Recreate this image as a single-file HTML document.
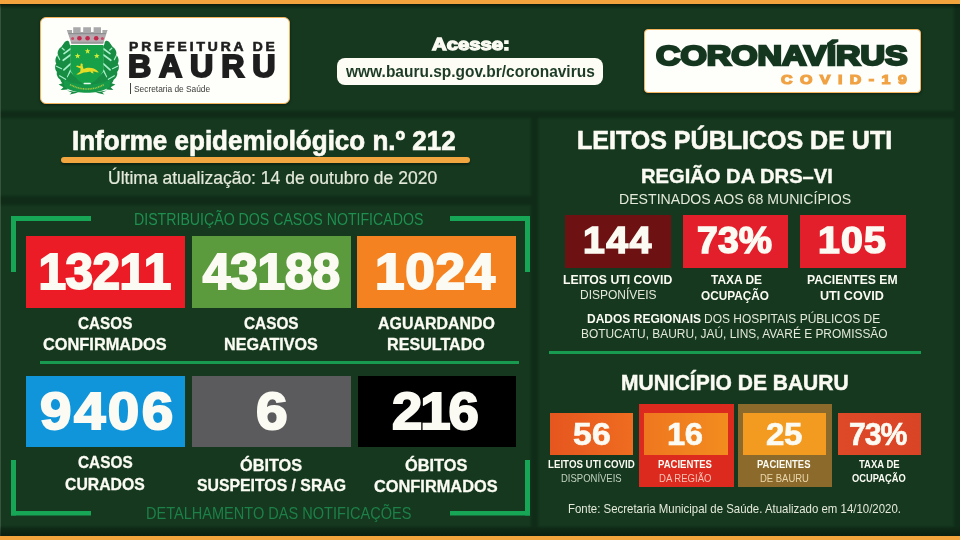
<!DOCTYPE html>
<html lang="pt-BR"><head><meta charset="utf-8"><title>Informe epidemiológico n.º 212 - Bauru</title>
<style>
html,body{margin:0;padding:0;}
body{width:960px;height:540px;overflow:hidden;position:relative;background:#102c18;font-family:"Liberation Sans", sans-serif;}
.t{position:absolute;white-space:nowrap;transform-origin:0 0;margin:0;padding:0;}
.b{position:absolute;}
.p{background:#15381f;filter:blur(1.1px);}
svg{position:absolute;left:0;top:0;}
</style></head><body>
<!-- background panels -->
<div class="b p" style="left:-6px;top:4.5px;width:960px;height:106px;"></div>
<div class="b p" style="left:-6px;top:117.5px;width:537px;height:78.5px;"></div>
<div class="b p" style="left:-6px;top:204.5px;width:537px;height:322px;"></div>
<div class="b p" style="left:537.5px;top:117.5px;width:416.5px;height:409px;"></div>
<div class="b" id="leftedge" style="left:0;top:4px;width:1.2px;height:532px;background:rgba(120,140,120,.35);"></div>
<!-- top & bottom orange bars -->
<div class="b" style="left:0;top:0;width:960px;height:4px;background:#f4a43c;"></div>
<div class="b" style="left:0;top:536px;width:960px;height:4px;background:#f4a43c;"></div>

<div class="b" id="topshade" style="left:0;top:4px;width:960px;height:5px;background:linear-gradient(180deg,rgba(8,22,10,.7),rgba(8,22,10,0));"></div>
<div class="b" style="left:0;top:526px;width:960px;height:10px;background:linear-gradient(180deg,rgba(8,22,10,0),rgba(8,22,10,.55));"></div>
<!-- logo box -->
<div class="b" style="left:39.5px;top:16.5px;width:248px;height:85px;background:#fefefa;border:1.5px solid #f3b35a;border-radius:6px;box-shadow:0 1px 3px rgba(0,0,0,.45);"></div>
<div class="b" style="left:129.5px;top:82.5px;width:1.4px;height:11.5px;background:#444;"></div>
<svg width="960" height="540" viewBox="0 0 960 540" style="pointer-events:none">
<defs><filter id="cb" x="-10%" y="-10%" width="120%" height="120%"><feGaussianBlur stdDeviation="0.45"/></filter></defs>
<g filter="url(#cb)">
<g>
<path d="M67 41.5 C56 47 53.5 70 66 84 L73 82 L70.8 72 L70.8 46 Z" fill="#158d43"/>
<ellipse cx="66.2" cy="45.5" rx="5.0" ry="3.1" transform="rotate(-70 66.2 45.5)" fill="#158d43"/>
<ellipse cx="61.2" cy="51.5" rx="5.0" ry="3.1" transform="rotate(-62 61.2 51.5)" fill="#158d43"/>
<ellipse cx="58.6" cy="59.5" rx="5.0" ry="3.1" transform="rotate(-78 58.6 59.5)" fill="#158d43"/>
<ellipse cx="58.2" cy="67.5" rx="5.0" ry="3.1" transform="rotate(-95 58.2 67.5)" fill="#158d43"/>
<ellipse cx="60.2" cy="75.0" rx="5.0" ry="3.1" transform="rotate(-115 60.2 75.0)" fill="#158d43"/>
<ellipse cx="64.5" cy="81.0" rx="5.0" ry="3.1" transform="rotate(-135 64.5 81.0)" fill="#158d43"/>
<path d="M64.0 53.6 L70.2 49.0" stroke="#a8efc9" stroke-width="1.7" stroke-linecap="round"/>
<path d="M63.2 60.3 L70.3 55.0" stroke="#a8efc9" stroke-width="1.7" stroke-linecap="round"/>
<path d="M63.9 69.9 L70.5 63.9" stroke="#a8efc9" stroke-width="1.7" stroke-linecap="round"/>
<path d="M67.7 76.8 L70.6 70.4" stroke="#a8efc9" stroke-width="1.7" stroke-linecap="round"/>
<path d="M62.2 48.2 L64.2 50.0" stroke="#a8efc9" stroke-width="1.2" stroke-linecap="round"/>
<path d="M57.6 55.6 L59.6 59.6" stroke="#a8efc9" stroke-width="1.2" stroke-linecap="round"/>
<path d="M56.4 66.3 L61.6 68.7" stroke="#a8efc9" stroke-width="1.2" stroke-linecap="round"/>
<path d="M59.6 75.8 L66.0 79.4" stroke="#a8efc9" stroke-width="1.2" stroke-linecap="round"/>
</g>
<g transform="translate(174.0 0) scale(-1 1)">
<path d="M67 41.5 C56 47 53.5 70 66 84 L73 82 L70.8 72 L70.8 46 Z" fill="#158d43"/>
<ellipse cx="66.2" cy="45.5" rx="5.0" ry="3.1" transform="rotate(-70 66.2 45.5)" fill="#158d43"/>
<ellipse cx="61.2" cy="51.5" rx="5.0" ry="3.1" transform="rotate(-62 61.2 51.5)" fill="#158d43"/>
<ellipse cx="58.6" cy="59.5" rx="5.0" ry="3.1" transform="rotate(-78 58.6 59.5)" fill="#158d43"/>
<ellipse cx="58.2" cy="67.5" rx="5.0" ry="3.1" transform="rotate(-95 58.2 67.5)" fill="#158d43"/>
<ellipse cx="60.2" cy="75.0" rx="5.0" ry="3.1" transform="rotate(-115 60.2 75.0)" fill="#158d43"/>
<ellipse cx="64.5" cy="81.0" rx="5.0" ry="3.1" transform="rotate(-135 64.5 81.0)" fill="#158d43"/>
<path d="M64.0 53.6 L70.2 49.0" stroke="#a8efc9" stroke-width="1.7" stroke-linecap="round"/>
<path d="M63.2 60.3 L70.3 55.0" stroke="#a8efc9" stroke-width="1.7" stroke-linecap="round"/>
<path d="M63.9 69.9 L70.5 63.9" stroke="#a8efc9" stroke-width="1.7" stroke-linecap="round"/>
<path d="M67.7 76.8 L70.6 70.4" stroke="#a8efc9" stroke-width="1.7" stroke-linecap="round"/>
<path d="M62.2 48.2 L64.2 50.0" stroke="#a8efc9" stroke-width="1.2" stroke-linecap="round"/>
<path d="M57.6 55.6 L59.6 59.6" stroke="#a8efc9" stroke-width="1.2" stroke-linecap="round"/>
<path d="M56.4 66.3 L61.6 68.7" stroke="#a8efc9" stroke-width="1.2" stroke-linecap="round"/>
<path d="M59.6 75.8 L66.0 79.4" stroke="#a8efc9" stroke-width="1.2" stroke-linecap="round"/>
</g>
<!-- crown -->
<path d="M66.8 30 L72 30 L72 33 L73.2 33 L73.2 27.3 L80.6 27.3 L80.6 32 L83.2 32 L83.2 27.3 L91 27.3 L91 32 L93.6 32 L93.6 27.3 L101 27.3 L101 33 L102.4 33 L102.4 30 L107.6 30 L103.2 43.6 L71.4 43.6 Z" fill="#a9a9ab"/>
<path d="M70 35.2 L104.5 35.2 L103 41.2 L71.6 41.2 Z" fill="#b8a9b0"/><path d="M68.5 33.6 L106 33.6" stroke="#8d8d90" stroke-width="1"/>
<circle cx="79.4" cy="38.3" r="2.3" fill="#c22a4c"/><circle cx="87.6" cy="38.3" r="2.3" fill="#c22a4c"/><circle cx="96.2" cy="38.3" r="2.3" fill="#c22a4c"/>
<circle cx="72.6" cy="38.6" r="1.5" fill="#c84a64"/><circle cx="102.4" cy="38.6" r="1.5" fill="#c84a64"/>
<path d="M71.2 42 L103.4 42 L103.2 43.7 L71.4 43.7 Z" fill="#98989a"/>
<!-- shield -->
<path d="M70.6 45.1 L103.3 45.1 L103.3 70 C103.3 76 96 82 87 86.4 C78 82 70.6 76 70.6 70 Z" fill="#17a047"/>
<!-- mint wedges -->
<path d="M70.8 71 L76.5 80.5 L73 79.5 Z" fill="#a8efc9"/><path d="M103.2 71 L97.5 80.5 L101 79.5 Z" fill="#a8efc9"/>
<!-- stars -->
<g fill="#d3ea3a">
<path d="M87.6 48.2 l0.75 2 2.1 0.1 -1.65 1.3 0.6 2.05 -1.8 -1.2 -1.8 1.2 0.6 -2.05 -1.65 -1.3 2.1 -0.1z"/>
<path d="M77.6 53.1 l0.75 2 2.1 0.1 -1.65 1.3 0.6 2.05 -1.8 -1.2 -1.8 1.2 0.6 -2.05 -1.65 -1.3 2.1 -0.1z"/>
<path d="M96.8 53.1 l0.75 2 2.1 0.1 -1.65 1.3 0.6 2.05 -1.8 -1.2 -1.8 1.2 0.6 -2.05 -1.65 -1.3 2.1 -0.1z"/>
</g>
<!-- lion -->
<path d="M80.6 63.8 C82.4 63 83.2 64.4 82.6 65.8 L83.6 69 C86 67.6 90 67.2 93 68.2 C95.4 69 97.6 70.6 98.8 72.6 L96.6 72.2 C95.4 71.4 94 71.2 92.6 71.6 L93.8 73.6 L91.6 73 L90.2 71.6 C88 72.2 85.6 72.6 83.6 72.6 L78.8 74.6 L76.2 74.4 L80.2 71.8 L80.6 68.6 L76 66.4 L77 65.4 L80.4 66.2 Z" fill="#e6dc28"/>
<!-- ribbon -->
<path d="M58.6 84.4 L66 82 L67.6 89.6 L60.6 90 L63.4 87.2 Z" fill="#138a40"/>
<path d="M115.4 84.4 L108 82 L106.4 89.6 L113.4 90 L110.6 87.2 Z" fill="#138a40"/>
<path d="M70.6 72 L66 80 L72 84 L87 87 L102 84 L108 80 L103.3 72 L96 80 L87 86.4 L78 80 Z" fill="#158d43"/>
<path d="M63.4 79.6 C71 83.6 80 84.8 87 84.8 C94 84.8 103 83.6 110.6 79.6 L109.4 87.2 C102 91.6 94 92.8 87 92.8 C80 92.8 72 91.6 64.6 87.2 Z" fill="#17994a"/>
<path d="M67 90.4 L78.5 92.4 L69.6 94.4 L71.8 92.4 Z" fill="#138a40"/><path d="M107 90.4 L95.5 92.4 L104.4 94.4 L102.2 92.4 Z" fill="#138a40"/>
<path d="M70 84.6 C77 88.2 82 89 87 89 C92 89 97 88.2 104 84.6" stroke="#a3c43e" stroke-width="1.6" fill="none" stroke-dasharray="1.1 0.6"/>
<rect x="83.6" y="82.7" width="7.2" height="1.6" rx=".6" fill="#e9fbef"/>
</g>
</svg>
<!-- url pill -->
<div class="b" style="left:337px;top:58.25px;width:265.5px;height:26.75px;background:#fdfdf6;border-radius:8px;"></div>
<!-- coronavirus box -->
<div class="b" style="left:643.75px;top:29px;width:275px;height:62px;background:#fefefa;border:1px solid #f3b35a;border-radius:4px;box-shadow:0 1px 3px rgba(0,0,0,.45);"></div>

<!-- title underline -->
<div class="b" style="left:60.5px;top:157px;width:409.5px;height:6px;background:#f2a640;border-radius:3px;box-shadow:0 2px 2px rgba(0,0,0,.35);"></div>

<!-- brackets -->
<div class="b" style="left:11px;top:216px;width:80px;height:56px;border-left:5px solid #17a556;border-top:5px solid #17a556;box-sizing:border-box;clip-path:polygon(0 0,100% 0,100% 5px,5px 5px,5px 100%,0 100%);"></div>
<div class="b" style="left:449.5px;top:216px;width:80.5px;height:56px;border-right:5px solid #17a556;border-top:5px solid #17a556;box-sizing:border-box;clip-path:polygon(0 0,100% 0,100% 100%,calc(100% - 5px) 100%,calc(100% - 5px) 5px,0 5px);"></div>
<div class="b" style="left:11px;top:459.5px;width:80px;height:56px;border-left:5px solid #17a556;border-bottom:5px solid #17a556;box-sizing:border-box;clip-path:polygon(0 0,5px 0,5px calc(100% - 5px),100% calc(100% - 5px),100% 100%,0 100%);"></div>
<div class="b" style="left:449.5px;top:459.5px;width:80.5px;height:56px;border-right:5px solid #17a556;border-bottom:5px solid #17a556;box-sizing:border-box;clip-path:polygon(calc(100% - 5px) 0,100% 0,100% 100%,0 100%,0 calc(100% - 5px),calc(100% - 5px) calc(100% - 5px));"></div>

<!-- separators -->
<div class="b" style="left:39.5px;top:361.2px;width:479px;height:2.8px;background:#189a50;"></div>
<div class="b" style="left:548.75px;top:351.3px;width:372px;height:2.8px;background:#189a50;"></div>

<!-- left boxes -->
<div class="b" style="left:25.5px;top:236.25px;width:159.5px;height:71.25px;background:#ec1c27;"></div>
<div class="b" style="left:192px;top:236.25px;width:159.25px;height:71.25px;background:#5b9a3d;"></div>
<div class="b" style="left:357px;top:236.25px;width:158.75px;height:71.25px;background:#f58220;"></div>
<div class="b" style="left:25.75px;top:375.5px;width:159.25px;height:71.5px;background:#1095db;"></div>
<div class="b" style="left:192px;top:375.5px;width:159.25px;height:71.5px;background:#5b5a5d;"></div>
<div class="b" style="left:357.5px;top:375.5px;width:158.25px;height:71.5px;background:#000;"></div>

<!-- right top boxes -->
<div class="b" style="left:565px;top:214.5px;width:105.5px;height:53px;background:#6d1112;"></div>
<div class="b" style="left:682.5px;top:214.5px;width:105.5px;height:53px;background:#e31f2b;"></div>
<div class="b" style="left:800px;top:214.5px;width:105.5px;height:53px;background:#e31f2b;"></div>

<!-- right bottom boxes -->
<div class="b" style="left:550px;top:413px;width:83.25px;height:42px;background:linear-gradient(90deg,#e6561f,#ef6c20);"></div>
<div class="b" style="left:638.75px;top:403.75px;width:94.75px;height:83px;background:#dc2a1f;"></div>
<div class="b" style="left:643.75px;top:413px;width:83.75px;height:42px;background:linear-gradient(90deg,#ef771f,#f28c1f);"></div>
<div class="b" style="left:737.5px;top:403.75px;width:94.5px;height:83px;background:#8c6a2c;"></div>
<div class="b" style="left:743px;top:413px;width:83.25px;height:42px;background:#f39b20;"></div>
<div class="b" style="left:837.5px;top:413px;width:83.25px;height:42px;background:linear-gradient(90deg,#de4a27,#d94426);"></div>

<div class="t" style="left:129.37px;top:39.70px;font-size:13.23px;line-height:13.23px;font-weight:700;color:#1e1e1e;transform:scaleX(1.0500);letter-spacing:2.74px;-webkit-text-stroke:0.6px #1e1e1e;">PREFEITURA DE</div>
<div class="t" style="left:128.45px;top:52.39px;font-size:30.96px;line-height:30.96px;font-weight:700;color:#1e1e1e;transform:scaleX(1.0400);letter-spacing:7.51px;-webkit-text-stroke:2.0px #1e1e1e;">BAURU</div>
<div class="t" style="left:133.62px;top:83.58px;font-size:9.59px;line-height:9.59px;font-weight:400;color:#3a3a3a;transform:scaleX(0.8718);">Secretaria de Saúde</div>
<div class="t" style="left:432.14px;top:36.52px;font-size:16.57px;line-height:16.57px;font-weight:700;color:#fbfbf3;transform:scaleX(1.2257);-webkit-text-stroke:1.3px #fbfbf3;">Acesse:</div>
<div class="t" style="left:345.55px;top:63.97px;font-size:15.99px;line-height:15.99px;font-weight:700;color:#1d3c26;transform:scaleX(0.9692);">www.bauru.sp.gov.br/coronavirus</div>
<div class="t" style="left:656.06px;top:41.74px;font-size:28.13px;line-height:28.13px;font-weight:700;color:#15361f;transform:scaleX(1.2044);-webkit-text-stroke:2.4px #15361f;">CORONAVÍRUS</div>
<div class="t" style="left:781.20px;top:72.71px;font-size:13.52px;line-height:13.52px;font-weight:700;color:#f0a244;transform:scaleX(1.1800);letter-spacing:6.32px;-webkit-text-stroke:1.2px #f0a244;">COVID-19</div>
<div class="t" style="left:71.61px;top:126.52px;font-size:27.33px;line-height:27.33px;font-weight:700;color:#fbfbf3;transform:scaleX(0.9512);-webkit-text-stroke:0.7px #fbfbf3;">Informe epidemiológico n.º 212</div>
<div class="t" style="left:108.25px;top:169.81px;font-size:17.59px;line-height:17.59px;font-weight:400;color:#e4e9da;transform:scaleX(0.9965);-webkit-text-stroke:0.2px #e4e9da;">Última atualização: 14 de outubro de 2020</div>
<div class="t" style="left:133.84px;top:211.34px;font-size:16.13px;line-height:16.13px;font-weight:400;color:#1f8f50;transform:scaleX(0.8785);">DISTRIBUIÇÃO DOS CASOS NOTIFICADOS</div>
<div class="t" style="left:38.48px;top:247.84px;font-size:49.56px;line-height:49.56px;font-weight:700;color:#fbfbf3;transform:scaleX(1.0000);letter-spacing:-0.55px;-webkit-text-stroke:2.0px #fbfbf3;">13211</div>
<div class="t" style="left:202.75px;top:247.84px;font-size:49.56px;line-height:49.56px;font-weight:700;color:#fbfbf3;transform:scaleX(1.0000);letter-spacing:-0.14px;-webkit-text-stroke:2.0px #fbfbf3;">43188</div>
<div class="t" style="left:374.66px;top:247.84px;font-size:49.56px;line-height:49.56px;font-weight:700;color:#fbfbf3;transform:scaleX(1.0700);letter-spacing:0.67px;-webkit-text-stroke:2.0px #fbfbf3;">1024</div>
<div class="t" style="left:78.02px;top:314.99px;font-size:16.13px;line-height:16.13px;font-weight:700;color:#fbfbf3;transform:scaleX(0.9486);-webkit-text-stroke:0.3px #fbfbf3;">CASOS</div>
<div class="t" style="left:43.38px;top:336.07px;font-size:16.28px;line-height:16.28px;font-weight:700;color:#fbfbf3;transform:scaleX(1.0058);-webkit-text-stroke:0.3px #fbfbf3;">CONFIRMADOS</div>
<div class="t" style="left:243.77px;top:314.99px;font-size:16.13px;line-height:16.13px;font-weight:700;color:#fbfbf3;transform:scaleX(0.9530);-webkit-text-stroke:0.3px #fbfbf3;">CASOS</div>
<div class="t" style="left:224.07px;top:336.07px;font-size:16.28px;line-height:16.28px;font-weight:700;color:#fbfbf3;transform:scaleX(0.9920);-webkit-text-stroke:0.3px #fbfbf3;">NEGATIVOS</div>
<div class="t" style="left:377.75px;top:314.99px;font-size:16.13px;line-height:16.13px;font-weight:700;color:#fbfbf3;transform:scaleX(0.9891);-webkit-text-stroke:0.3px #fbfbf3;">AGUARDANDO</div>
<div class="t" style="left:387.07px;top:336.07px;font-size:16.28px;line-height:16.28px;font-weight:700;color:#fbfbf3;transform:scaleX(0.9907);-webkit-text-stroke:0.3px #fbfbf3;">RESULTADO</div>
<div class="t" style="left:39.79px;top:386.34px;font-size:51.45px;line-height:51.45px;font-weight:700;color:#fbfbf3;transform:scaleX(1.1000);letter-spacing:2.23px;-webkit-text-stroke:2.0px #fbfbf3;">9406</div>
<div class="t" style="left:256.42px;top:386.34px;font-size:51.45px;line-height:51.45px;font-weight:700;color:#fbfbf3;transform:scaleX(1.1056);-webkit-text-stroke:2.0px #fbfbf3;">6</div>
<div class="t" style="left:392.11px;top:386.34px;font-size:51.45px;line-height:51.45px;font-weight:700;color:#fbfbf3;transform:scaleX(1.0600);letter-spacing:-1.95px;-webkit-text-stroke:2.0px #fbfbf3;">216</div>
<div class="t" style="left:77.77px;top:454.45px;font-size:16.42px;line-height:16.42px;font-weight:700;color:#fbfbf3;transform:scaleX(0.9362);-webkit-text-stroke:0.3px #fbfbf3;">CASOS</div>
<div class="t" style="left:65.25px;top:475.77px;font-size:16.28px;line-height:16.28px;font-weight:700;color:#fbfbf3;transform:scaleX(0.9685);-webkit-text-stroke:0.3px #fbfbf3;">CURADOS</div>
<div class="t" style="left:239.98px;top:457.09px;font-size:16.13px;line-height:16.13px;font-weight:700;color:#fbfbf3;transform:scaleX(1.0113);-webkit-text-stroke:0.3px #fbfbf3;">ÓBITOS</div>
<div class="t" style="left:197.19px;top:477.37px;font-size:16.28px;line-height:16.28px;font-weight:700;color:#fbfbf3;transform:scaleX(0.9717);-webkit-text-stroke:0.3px #fbfbf3;">SUSPEITOS / SRAG</div>
<div class="t" style="left:404.98px;top:457.09px;font-size:16.13px;line-height:16.13px;font-weight:700;color:#fbfbf3;transform:scaleX(1.0155);-webkit-text-stroke:0.3px #fbfbf3;">ÓBITOS</div>
<div class="t" style="left:374.48px;top:477.89px;font-size:16.13px;line-height:16.13px;font-weight:700;color:#fbfbf3;transform:scaleX(1.0153);-webkit-text-stroke:0.3px #fbfbf3;">CONFIRMADOS</div>
<div class="t" style="left:145.81px;top:505.52px;font-size:15.63px;line-height:15.63px;font-weight:400;color:#1d8048;transform:scaleX(0.9309);">DETALHAMENTO DAS NOTIFICAÇÕES</div>
<div class="t" style="left:577.38px;top:128.04px;font-size:25.29px;line-height:25.29px;font-weight:700;color:#fbfbf3;transform:scaleX(0.9898);-webkit-text-stroke:0.6px #fbfbf3;">LEITOS PÚBLICOS DE UTI</div>
<div class="t" style="left:640.85px;top:166.26px;font-size:20.13px;line-height:20.13px;font-weight:700;color:#fbfbf3;transform:scaleX(1.0021);-webkit-text-stroke:0.4px #fbfbf3;">REGIÃO DA DRS–VI</div>
<div class="t" style="left:618.84px;top:192.56px;font-size:13.81px;line-height:13.81px;font-weight:400;color:#e4e9da;transform:scaleX(1.0228);">DESTINADOS AOS 68 MUNICÍPIOS</div>
<div class="t" style="left:582.78px;top:223.39px;font-size:36.34px;line-height:36.34px;font-weight:700;color:#fbfbf3;transform:scaleX(1.0800);letter-spacing:1.37px;-webkit-text-stroke:1.5px #fbfbf3;">144</div>
<div class="t" style="left:697.14px;top:223.39px;font-size:36.34px;line-height:36.34px;font-weight:700;color:#fbfbf3;transform:scaleX(1.0300);letter-spacing:0.09px;-webkit-text-stroke:1.5px #fbfbf3;">73%</div>
<div class="t" style="left:817.53px;top:223.39px;font-size:36.34px;line-height:36.34px;font-weight:700;color:#fbfbf3;transform:scaleX(1.0800);letter-spacing:1.08px;-webkit-text-stroke:1.5px #fbfbf3;">105</div>
<div class="t" style="left:562.93px;top:274.36px;font-size:12.21px;line-height:12.21px;font-weight:700;color:#fbfbf3;transform:scaleX(1.0031);">LEITOS UTI COVID</div>
<div class="t" style="left:579.52px;top:289.23px;font-size:12.72px;line-height:12.72px;font-weight:400;color:#e4e9da;transform:scaleX(0.9416);">DISPONÍVEIS</div>
<div class="t" style="left:710.62px;top:274.36px;font-size:12.21px;line-height:12.21px;font-weight:700;color:#fbfbf3;transform:scaleX(0.9784);">TAXA DE</div>
<div class="t" style="left:701.27px;top:289.92px;font-size:12.50px;line-height:12.50px;font-weight:700;color:#fbfbf3;transform:scaleX(0.9443);">OCUPAÇÃO</div>
<div class="t" style="left:807.18px;top:274.36px;font-size:12.21px;line-height:12.21px;font-weight:700;color:#fbfbf3;transform:scaleX(0.9995);">PACIENTES EM</div>
<div class="t" style="left:820.49px;top:289.92px;font-size:12.50px;line-height:12.50px;font-weight:700;color:#fbfbf3;transform:scaleX(1.0093);">UTI COVID</div>
<div class="t" style="left:587.45px;top:313.39px;font-size:12.06px;line-height:12.06px;font-weight:700;color:#fbfbf3;transform:scaleX(0.9970);">DADOS REGIONAIS</div>
<div class="t" style="left:704.02px;top:313.39px;font-size:12.06px;line-height:12.06px;font-weight:400;color:#e4e9da;transform:scaleX(0.9948);">DOS HOSPITAIS PÚBLICOS DE</div>
<div class="t" style="left:581.02px;top:328.48px;font-size:12.72px;line-height:12.72px;font-weight:400;color:#e4e9da;transform:scaleX(0.9369);">BOTUCATU, BAURU, JAÚ, LINS, AVARÉ E PROMISSÃO</div>
<div class="t" style="left:621.34px;top:372.86px;font-size:21.37px;line-height:21.37px;font-weight:700;color:#fbfbf3;transform:scaleX(0.9836);-webkit-text-stroke:0.5px #fbfbf3;">MUNICÍPIO DE BAURU</div>
<div class="t" style="left:573.06px;top:419.21px;font-size:31.18px;line-height:31.18px;font-weight:700;color:#fbfbf3;transform:scaleX(1.0800);letter-spacing:0.32px;-webkit-text-stroke:0.7px #fbfbf3;">56</div>
<div class="t" style="left:666.54px;top:419.21px;font-size:31.18px;line-height:31.18px;font-weight:700;color:#fbfbf3;transform:scaleX(1.0500);letter-spacing:-0.35px;-webkit-text-stroke:0.7px #fbfbf3;">16</div>
<div class="t" style="left:766.20px;top:419.21px;font-size:31.18px;line-height:31.18px;font-weight:700;color:#fbfbf3;transform:scaleX(1.0600);letter-spacing:-0.37px;-webkit-text-stroke:0.7px #fbfbf3;">25</div>
<div class="t" style="left:849.05px;top:419.21px;font-size:31.18px;line-height:31.18px;font-weight:700;color:#fbfbf3;transform:scaleX(0.9700);letter-spacing:-1.10px;-webkit-text-stroke:0.7px #fbfbf3;">73%</div>
<div class="t" style="left:548.10px;top:460.36px;font-size:10.32px;line-height:10.32px;font-weight:700;color:#fbfbf3;transform:scaleX(0.9423);">LEITOS UTI COVID</div>
<div class="t" style="left:560.97px;top:472.57px;font-size:10.90px;line-height:10.90px;font-weight:400;color:#c3d2c0;transform:scaleX(0.8715);">DISPONÍVEIS</div>
<div class="t" style="left:658.11px;top:460.36px;font-size:10.32px;line-height:10.32px;font-weight:700;color:#fbfbf3;transform:scaleX(0.9265);">PACIENTES</div>
<div class="t" style="left:658.72px;top:472.57px;font-size:10.90px;line-height:10.90px;font-weight:400;color:#f7c3b4;transform:scaleX(0.8752);">DA REGIÃO</div>
<div class="t" style="left:757.37px;top:460.36px;font-size:10.32px;line-height:10.32px;font-weight:700;color:#fbfbf3;transform:scaleX(0.9178);">PACIENTES</div>
<div class="t" style="left:759.72px;top:472.57px;font-size:10.90px;line-height:10.90px;font-weight:400;color:#ead8ac;transform:scaleX(0.8700);">DE BAURU</div>
<div class="t" style="left:859.14px;top:460.36px;font-size:10.32px;line-height:10.32px;font-weight:700;color:#fbfbf3;transform:scaleX(0.9226);">TAXA DE</div>
<div class="t" style="left:852.12px;top:472.57px;font-size:10.90px;line-height:10.90px;font-weight:700;color:#fbfbf3;transform:scaleX(0.8565);">OCUPAÇÃO</div>
<div class="t" style="left:567.81px;top:503.04px;font-size:12.35px;line-height:12.35px;font-weight:400;color:#e4e9da;transform:scaleX(0.9259);">Fonte: Secretaria Municipal de Saúde. Atualizado em 14/10/2020.</div>
</body></html>
